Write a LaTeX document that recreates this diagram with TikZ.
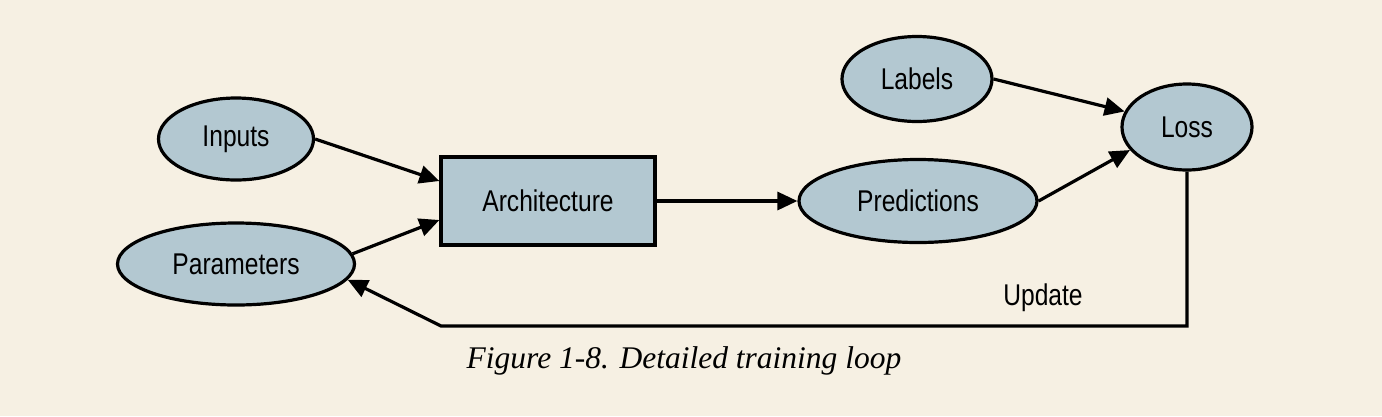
\documentclass[tikz,border=0pt]{standalone}
\usepackage{fontspec}
\setmainfont{Liberation Sans}[FakeStretch=0.82]
\newfontfamily\capfont{Liberation Serif}
\usetikzlibrary{arrows.meta,shapes.geometric,calc}
\definecolor{bgcol}{HTML}{F6F0E3}
\definecolor{nodefill}{HTML}{B3C8D1}
\begin{document}
\begin{tikzpicture}[x=1pt,y=-1pt,
  elnode/.style={ellipse,draw=black,line width=3.2pt,fill=nodefill,inner sep=0pt,font=\fontsize{30}{34}\selectfont},
  boxnode/.style={rectangle,draw=black,line width=3.2pt,fill=nodefill,inner sep=0pt,font=\fontsize{30}{34}\selectfont},
  conn/.style={line width=3.2pt,-{Triangle[length=20pt,width=18pt]}},
  lbl/.style={font=\fontsize{30}{34}\selectfont},
  captxt/.style={font=\capfont\itshape\fontsize{31.5}{36}\selectfont}]
\fill[bgcol] (0,0) rectangle (1382,416);
\useasboundingbox (0,0) rectangle (1382,416);
\node[elnode,minimum width=155pt,minimum height=82pt] (inputs) at (236,139) {Inputs};
\node[elnode,minimum width=237pt,minimum height=82pt] (params) at (236,264) {Parameters};
\node[boxnode,minimum width=214pt,minimum height=88pt] (arch) at (548,201) {Architecture};
\node[elnode,minimum width=238pt,minimum height=83pt] (preds) at (918,201) {Predictions};
\node[elnode,minimum width=150pt,minimum height=85pt] (labels) at (917,79) {Labels};
\node[elnode,minimum width=130pt,minimum height=86pt] (loss) at (1187,127) {Loss};
\coordinate (lbot) at (441,326);
\node[lbl] (update) at (1043,298) {Update};
\node[captxt] (caption) at (684,361) {Figure 1-8. Detailed training loop};
\draw[conn] (inputs.east) -- ([yshift=20pt]arch.west);
\draw[conn] (params.5) -- ([yshift=-19pt]arch.west);
\draw[conn] (arch.east) -- (preds.west);
\draw[conn] (labels.east) -- (loss.166);
\draw[conn] (preds.east) -- (loss.202);
\draw[conn] (loss.south) -- (loss.south |- lbot) -- (lbot) -- (params.-8);
\end{tikzpicture}
\end{document}
